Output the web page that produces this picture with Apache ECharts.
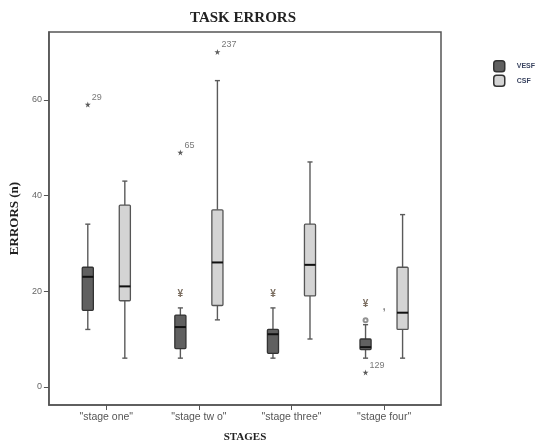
<!DOCTYPE html>
<html>
<head>
<meta charset="utf-8">
<script src="https://cdn.jsdelivr.net/npm/echarts@6/dist/echarts.min.js"></script>
<style>html,body{margin:0;padding:0;background:#fff;}#chart{width:542px;height:448px;}</style>
</head>
<body>
<div id="chart"></div>
<script>
const categories = ['"stage one"', '"stage tw o"', '"stage three"', '"stage four"'];
const yTicks = [0, 20, 40, 60];
// [min, Q1, median, Q3, max]
const vesfBoxes = [[12, 16, 23, 25, 34], [6, 8, 12.5, 15, 16.5], [6, 7, 11, 12, 16.5], [6, 7.8, 8.3, 10, 13]];
const csfBoxes = [[6, 18, 21, 38, 43], [14, 17, 26, 37, 64], [10, 19, 25.5, 34, 47], [6, 12, 15.5, 25, 36]];
// [stage index, value, case label]
const vesfExtremes = [[0, 59, '29'], [1, 49, '65'], [3, 3, '129']];
const csfExtremes = [[1, 70, '237']];
// [stage index, value]
const vesfOutliers = [[1, 19.3], [2, 19.3], [3, 17.2]];
const vesfMild = [[3, 13.9]];
const strayMarks = [[3, 16.6]];

const OFF = 0.2;
const starPath = 'path://M50,0 L61,35 L98,35 L68,57 L79,91 L50,70 L21,91 L32,57 L2,35 L39,35 Z';

function boxRenderer(offset, fill, stroke) {
  return function (params, api) {
    const c = api.value(0) + offset;
    const band = api.size([1, 0])[0];
    const bw = band * 0.12;
    const cw = band * 0.055;
    const pMin = api.coord([c, api.value(1)]);
    const pQ1 = api.coord([c, api.value(2)]);
    const pMed = api.coord([c, api.value(3)]);
    const pQ3 = api.coord([c, api.value(4)]);
    const pMax = api.coord([c, api.value(5)]);
    const x = pMin[0];
    const w = { stroke: '#5a5a5a', lineWidth: 1.4 };
    return {
      type: 'group',
      children: [
        { type: 'line', shape: { x1: x, y1: pMax[1], x2: x, y2: pQ3[1] }, style: w },
        { type: 'line', shape: { x1: x, y1: pQ1[1], x2: x, y2: pMin[1] }, style: w },
        { type: 'line', shape: { x1: x - cw / 2, y1: pMax[1], x2: x + cw / 2, y2: pMax[1] }, style: w },
        { type: 'line', shape: { x1: x - cw / 2, y1: pMin[1], x2: x + cw / 2, y2: pMin[1] }, style: w },
        { type: 'rect', shape: { x: x - bw / 2, y: pQ3[1], width: bw, height: pQ1[1] - pQ3[1], r: 1 },
          style: { fill: fill, stroke: stroke, lineWidth: 1.3 } },
        { type: 'line', shape: { x1: x - bw / 2, y1: pMed[1], x2: x + bw / 2, y2: pMed[1] },
          style: { stroke: '#111', lineWidth: 2 } }
      ]
    };
  };
}

const chart = echarts.init(document.getElementById('chart'), null, { renderer: 'canvas' });
const axisColor = '#555';
const starLabel = {
  show: true, formatter: p => p.value[2], position: 'right', distance: 1, offset: [0, -7],
  fontSize: 9, color: '#555', fontFamily: 'Liberation Sans'
};

chart.setOption({
  animation: false,
  backgroundColor: '#fff',
  textStyle: { fontFamily: 'Liberation Sans' },
  title: {
    text: 'TASK ERRORS', left: 185, top: 6,
    textStyle: { fontFamily: 'Liberation Serif', fontWeight: 'bold', fontSize: 15, color: '#222' }
  },
  legend: {
    orient: 'vertical', left: 488, top: 55, itemWidth: 11, itemHeight: 11, itemGap: 2,
    icon: 'roundRect',
    data: [
      { name: 'VESF', itemStyle: { color: '#606060', borderColor: '#333', borderWidth: 1.5 } },
      { name: 'CSF', itemStyle: { color: '#d4d4d4', borderColor: '#333', borderWidth: 1.5 } }
    ],
    textStyle: { fontSize: 7, fontWeight: 'bold', color: '#3a4460', padding: [0, 0, 0, 7] }
  },
  grid: { left: 46, top: 32, right: 101, bottom: 39, show: true, borderColor: axisColor, borderWidth: 1.5 },
  xAxis: {
    type: 'value', min: -0.62, max: 3.615,
    splitLine: { show: false },
    axisLine: { show: true, onZero: false, lineStyle: { color: axisColor, width: 1.5 } },
    axisTick: { show: true, customValues: [0, 1, 2, 3], length: 5, lineStyle: { color: axisColor } },
    axisLabel: { customValues: [0, 1, 2, 3], formatter: v => categories[Math.round(v)], fontSize: 10.5, color: '#555', margin: 7 },
    name: 'STAGES', nameLocation: 'middle', nameGap: 27,
    nameTextStyle: { fontFamily: 'Liberation Serif', fontWeight: 'bold', fontSize: 11, color: '#222' }
  },
  yAxis: {
    type: 'value', min: -3.79, max: 74.16,
    splitLine: { show: false },
    axisLine: { show: true, onZero: false, lineStyle: { color: axisColor, width: 1.5 } },
    axisTick: { show: true, customValues: yTicks, length: 5, lineStyle: { color: axisColor } },
    axisLabel: { customValues: yTicks, fontSize: 9, color: '#666', margin: 7 },
    name: 'ERRORS (n)', nameLocation: 'middle', nameGap: 25,
    nameTextStyle: { fontFamily: 'Liberation Serif', fontWeight: 'bold', fontSize: 13, color: '#222' }
  },
  series: [
    {
      name: 'VESF', type: 'custom', renderItem: boxRenderer(-OFF, '#606060', '#333'),
      itemStyle: { color: '#606060', borderColor: '#333' },
      encode: { x: 0, y: [1, 2, 3, 4, 5] },
      data: vesfBoxes.map((b, i) => [i].concat(b)), z: 3
    },
    {
      name: 'CSF', type: 'custom', renderItem: boxRenderer(OFF, '#d4d4d4', '#555'),
      itemStyle: { color: '#d4d4d4', borderColor: '#333' },
      encode: { x: 0, y: [1, 2, 3, 4, 5] },
      data: csfBoxes.map((b, i) => [i].concat(b)), z: 3
    },
    {
      name: 'VESF extremes', type: 'scatter', symbol: starPath, symbolSize: 6,
      itemStyle: { color: '#333' }, label: starLabel,
      data: vesfExtremes.map(d => [d[0] - OFF, d[1], d[2]]), z: 4
    },
    {
      name: 'CSF extremes', type: 'scatter', symbol: starPath, symbolSize: 6,
      itemStyle: { color: '#333' }, label: starLabel,
      data: csfExtremes.map(d => [d[0] + OFF, d[1], d[2]]), z: 4
    },
    {
      name: 'VESF outliers', type: 'scatter', symbol: 'circle', symbolSize: 1,
      itemStyle: { color: 'rgba(0,0,0,0)' },
      label: { show: true, position: 'inside', formatter: '¥', fontSize: 10, fontWeight: 'bold', color: '#5a4a3a' },
      data: vesfOutliers.map(d => [d[0] - OFF, d[1]]), z: 4
    },
    {
      name: 'VESF mild', type: 'scatter', symbol: 'emptyCircle', symbolSize: 4,
      itemStyle: { color: '#777', borderColor: '#777', borderWidth: 1 },
      data: vesfMild.map(d => [d[0] - OFF, d[1]]), z: 4
    },
    {
      name: 'marks', type: 'scatter', symbol: 'circle', symbolSize: 1,
      itemStyle: { color: 'rgba(0,0,0,0)' },
      label: { show: true, position: 'inside', formatter: ',', fontSize: 10, fontWeight: 'bold', color: '#555' },
      data: strayMarks.map(d => [d[0], d[1]]), z: 4
    }
  ]
});
</script>
</body>
</html>
